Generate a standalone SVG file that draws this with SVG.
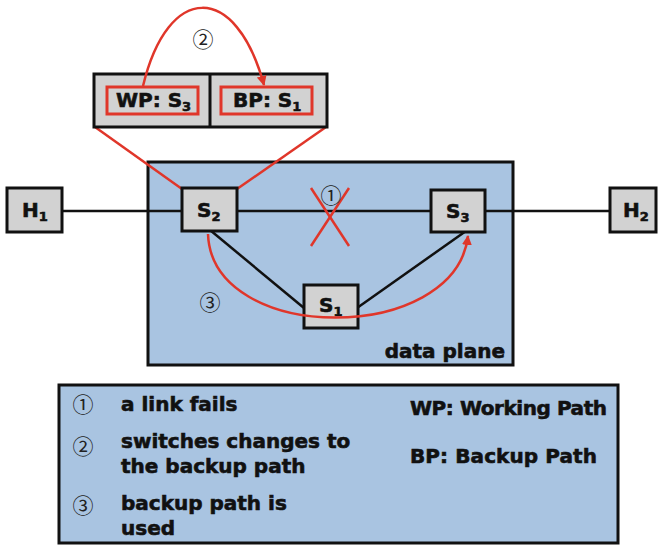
<svg xmlns="http://www.w3.org/2000/svg" width="659" height="547" viewBox="0 0 659 547">
  <style>
    .box { fill: #d2d2d2; stroke: #111; stroke-width: 3; }
    .plane { fill: #a9c4e1; stroke: #111; stroke-width: 3; }
    .link { stroke: #111; stroke-width: 2.5; fill: none; }
    .red { stroke: #e0362a; stroke-width: 2.5; fill: none; }
    .lbl { font-family: "DejaVu Sans", "Liberation Sans", sans-serif; font-weight: bold; font-size: 20px; fill: #111; stroke: #111; stroke-width: 0.6; }
    .sub { font-size: 13px; }
    .num { font-family: "Noto Sans CJK SC", "DejaVu Sans", sans-serif; font-size: 21px; fill: #222; text-anchor: middle; }
  </style>
  <defs>
    <marker id="arrow" markerWidth="10" markerHeight="10" refX="9" refY="5" orient="auto" markerUnits="userSpaceOnUse">
      <path d="M0,0 L10,5 L0,10 Z" fill="#e0362a"/>
    </marker>
  </defs>

  <!-- data plane -->
  <rect class="plane" x="148" y="162" width="365" height="203"/>
  <text class="lbl" x="505" y="358" text-anchor="end">data plane</text>

  <!-- links -->
  <g id="connectors">
    <line class="link" x1="62" y1="211" x2="182" y2="211"/>
    <line class="link" x1="237" y1="211" x2="431" y2="211"/>
    <line class="link" x1="485" y1="211" x2="610" y2="211"/>
    <line class="link" x1="210" y1="230" x2="304" y2="308"/>
    <line class="link" x1="466" y1="231" x2="357" y2="308"/>
    <!-- flow table to S2 -->
    <line class="red" x1="95" y1="127" x2="182" y2="189"/>
    <line class="red" x1="326" y1="127" x2="237" y2="189"/>
    <!-- failed link -->
    <line class="red" x1="311" y1="188" x2="349" y2="246"/>
    <line class="red" x1="349" y1="188" x2="311" y2="246"/>
  </g>

  <!-- flow table -->
  <g id="flowtable">
    <rect class="box" x="94" y="74" width="233" height="53"/>
    <line x1="210" y1="74" x2="210" y2="127" stroke="#111" stroke-width="3"/>
    <rect x="107" y="87" width="91" height="27" fill="none" stroke="#e0362a" stroke-width="3"/>
    <rect x="221" y="87" width="91" height="27" fill="none" stroke="#e0362a" stroke-width="3"/>
    <text class="lbl" x="116" y="107">WP: S<tspan class="sub" dy="4">3</tspan></text>
    <text class="lbl" x="233" y="107">BP: S<tspan class="sub" dy="4">1</tspan></text>
  </g>

  <g id="H1">
    <rect class="box" x="7" y="188" width="55" height="44"/>
    <text class="lbl" x="22" y="217">H<tspan class="sub" dy="4">1</tspan></text>
  </g>
  <g id="S2">
    <rect class="box" x="182" y="188" width="55" height="43"/>
    <text class="lbl" x="197" y="217">S<tspan class="sub" dy="4">2</tspan></text>
  </g>
  <g id="S3">
    <rect class="box" x="431" y="190" width="54" height="42"/>
    <text class="lbl" x="446" y="218">S<tspan class="sub" dy="4">3</tspan></text>
  </g>
  <g id="S1">
    <rect class="box" x="304" y="285" width="54" height="43"/>
    <text class="lbl" x="319" y="312">S<tspan class="sub" dy="4">1</tspan></text>
  </g>
  <g id="H2">
    <rect class="box" x="610" y="188" width="46" height="44"/>
    <text class="lbl" x="623" y="217">H<tspan class="sub" dy="4">2</tspan></text>
  </g>

  <!-- arcs drawn on top of the boxes -->
  <g id="arcs">
    <path class="red" d="M143,86 C168,-18 236,-18 264,85" marker-end="url(#arrow)"/>
    <path class="red" d="M208,234 C212,345 455,345 468,236" marker-end="url(#arrow)"/>
  </g>

  <!-- step markers -->
  <text class="num" x="203" y="47">②</text>
  <text class="num" x="331" y="203">①</text>
  <text class="num" x="210" y="310">③</text>

  <!-- legend -->
  <g id="legend">
    <rect class="plane" x="59" y="385" width="559" height="158"/>
    <text class="num" x="83" y="412">①</text>
    <text class="num" x="83" y="454">②</text>
    <text class="num" x="83" y="513">③</text>
    <text class="lbl" x="121" y="411">a link fails</text>
    <text class="lbl" x="121" y="448">switches changes to</text>
    <text class="lbl" x="121" y="473">the backup path</text>
    <text class="lbl" x="121" y="510">backup path is</text>
    <text class="lbl" x="121" y="535">used</text>
    <text class="lbl" x="410" y="415" textLength="197">WP: Working Path</text>
    <text class="lbl" x="410" y="463" textLength="187">BP: Backup Path</text>
  </g>
</svg>
